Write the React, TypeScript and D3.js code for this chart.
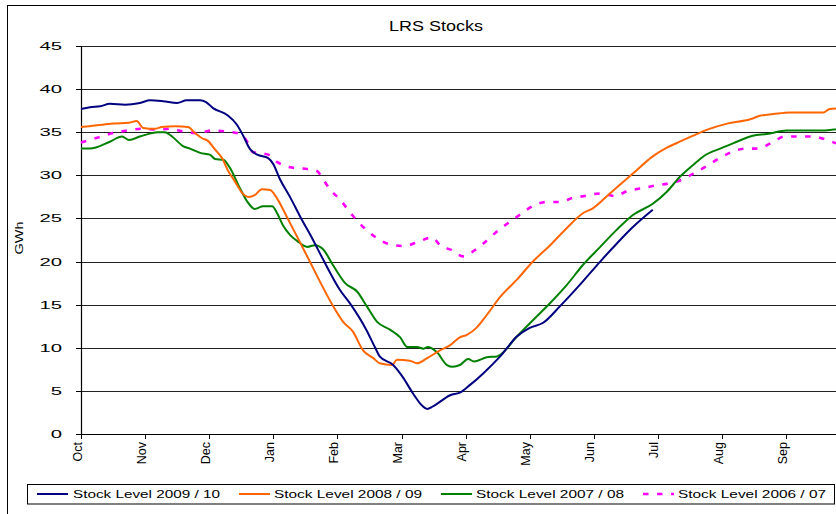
import React from 'react';
import * as d3 from 'd3';

// ---- data ----
const monthLabels = ['Oct', 'Nov', 'Dec', 'Jan', 'Feb', 'Mar', 'Apr', 'May', 'Jun', 'Jul', 'Aug', 'Sep'];
const yTicks = [0, 5, 10, 15, 20, 25, 30, 35, 40, 45];
const chartTitle = 'LRS Stocks';
const yLabel = 'GWh';

// months since 1 Oct
const months0910 = [0, 0.14, 0.30, 0.45, 0.69, 0.92, 1.08, 1.28, 1.50, 1.65, 1.86, 1.95, 2.06, 2.28, 2.43, 2.53, 2.64, 2.75, 2.92, 3.00, 3.10, 3.26, 3.42, 3.62, 3.78, 4.04, 4.21, 4.45, 4.59, 4.66, 4.87, 5.02, 5.18, 5.32, 5.40, 5.49, 5.76, 5.91, 6.07, 6.27, 6.54, 6.80, 7.00, 7.21, 7.47, 7.83, 8.10, 8.36, 8.61, 8.92];
const values0910 = [37.7, 37.9, 38.0, 38.3, 38.2, 38.4, 38.7, 38.6, 38.4, 38.7, 38.7, 38.5, 37.8, 37.0, 35.9, 34.6, 33.0, 32.4, 32.0, 31.3, 29.6, 27.5, 25.2, 22.5, 20.2, 16.7, 15.0, 12.1, 10.0, 9.0, 8.0, 6.6, 4.7, 3.3, 2.9, 3.2, 4.5, 4.8, 5.7, 7.0, 9.0, 11.3, 12.3, 12.9, 14.8, 17.7, 20.0, 22.1, 24.0, 26.0];

const months0809 = [0, 0.25, 0.5, 0.75, 0.87, 0.97, 1.15, 1.26, 1.47, 1.67, 1.78, 1.89, 1.98, 2.09, 2.20, 2.29, 2.40, 2.51, 2.61, 2.71, 2.82, 2.95, 3.06, 3.21, 3.37, 3.57, 3.74, 3.92, 4.09, 4.24, 4.40, 4.56, 4.66, 4.85, 4.93, 5.13, 5.24, 5.40, 5.60, 5.76, 5.91, 6.02, 6.18, 6.33, 6.54, 6.80, 7.05, 7.32, 7.58, 7.83, 7.99, 8.25, 8.61, 8.92, 9.14, 9.34, 9.55, 9.77, 10.08, 10.44, 10.59, 10.80, 11.06, 11.58, 11.68, 12.0];
const values0809 = [35.6, 35.8, 36.0, 36.1, 36.3, 35.5, 35.4, 35.6, 35.7, 35.6, 34.9, 34.3, 34.0, 33.0, 32.0, 30.6, 29.3, 28.0, 27.5, 27.7, 28.4, 28.3, 27.3, 25.2, 22.9, 20.0, 17.5, 15.0, 13.0, 11.9, 9.7, 8.8, 8.2, 8.0, 8.6, 8.5, 8.2, 8.8, 9.7, 10.3, 11.2, 11.5, 12.4, 13.8, 15.9, 17.9, 20.0, 21.9, 23.9, 25.6, 26.2, 27.9, 30.2, 32.2, 33.2, 33.9, 34.6, 35.3, 36.0, 36.5, 36.9, 37.1, 37.3, 37.3, 37.7, 37.8];

const months0708 = [0, 0.14, 0.45, 0.64, 0.75, 0.92, 1.20, 1.31, 1.42, 1.59, 1.70, 1.86, 2.01, 2.09, 2.22, 2.32, 2.48, 2.59, 2.71, 2.84, 2.98, 3.06, 3.15, 3.26, 3.37, 3.53, 3.65, 3.78, 3.93, 4.12, 4.31, 4.46, 4.62, 4.82, 4.98, 5.09, 5.24, 5.34, 5.41, 5.55, 5.71, 5.80, 5.91, 6.04, 6.13, 6.33, 6.49, 6.80, 7.05, 7.32, 7.58, 7.83, 8.10, 8.36, 8.61, 8.92, 9.14, 9.34, 9.55, 9.73, 9.97, 10.17, 10.48, 10.70, 11.01, 11.61, 12.0];
const values0708 = [33.1, 33.1, 33.9, 34.5, 34.1, 34.5, 35.0, 35.0, 34.5, 33.4, 33.1, 32.6, 32.4, 31.9, 31.8, 30.9, 28.5, 27.0, 26.1, 26.4, 26.4, 25.6, 24.2, 23.1, 22.4, 21.7, 21.9, 21.4, 19.6, 17.5, 16.5, 14.8, 13.0, 12.1, 11.2, 10.1, 10.1, 9.9, 10.1, 9.5, 8.0, 7.8, 8.0, 8.7, 8.4, 8.9, 9.0, 11.3, 13.2, 15.2, 17.3, 19.6, 21.7, 23.7, 25.4, 26.7, 28.1, 29.8, 31.2, 32.3, 33.1, 33.7, 34.6, 34.8, 35.2, 35.2, 35.7];

const months0607 = [0, 0.27, 0.50, 0.72, 0.95, 1.19, 1.39, 1.59, 1.81, 2.04, 2.25, 2.48, 2.61, 2.68, 2.92, 3.07, 3.29, 3.46, 3.68, 3.78, 3.88, 4.04, 4.23, 4.35, 4.48, 4.62, 4.82, 5.05, 5.26, 5.48, 5.60, 5.79, 5.96, 6.10, 6.26, 6.54, 6.69, 6.86, 7.04, 7.25, 7.47, 7.68, 7.86, 8.10, 8.33, 8.53, 8.75, 8.95, 9.19, 9.38, 9.55, 9.77, 9.94, 10.12, 10.36, 10.56, 10.78, 10.98, 11.22, 11.42, 11.64, 11.78];
const values0607 = [33.8, 34.4, 34.9, 35.2, 35.4, 35.3, 35.4, 35.1, 34.9, 35.2, 35.1, 34.8, 33.7, 32.7, 32.4, 31.5, 30.9, 30.8, 30.5, 29.5, 28.4, 27.2, 25.4, 24.4, 23.5, 22.7, 22.0, 21.8, 22.3, 22.8, 21.9, 21.3, 20.6, 21.1, 22.0, 23.8, 24.6, 25.5, 26.4, 26.9, 26.9, 27.4, 27.6, 27.9, 27.6, 28.2, 28.5, 28.8, 29.1, 29.5, 30.2, 31.1, 31.9, 32.6, 33.1, 33.1, 33.8, 34.5, 34.5, 34.5, 34.1, 33.7];

const seriesNames = ['Stock Level 2009 / 10', 'Stock Level 2008 / 09', 'Stock Level 2007 / 08', 'Stock Level 2006 / 07'];
const seriesColors = ['#000080', '#FF6600', '#008000', '#FF00FF'];

const FONT = "'Liberation Sans', Arial, sans-serif";

export default function App() {
  const W = 836;
  const H = 514;
  const left = 81;
  const top = 46;
  const bottom = 434;
  const monthW = 64.1;

  const x = d3.scaleLinear().domain([0, 12]).range([left, left + 12 * monthW]);
  const y = d3.scaleLinear().domain([0, 45]).range([bottom, top]);

  const series = [
    { name: seriesNames[0], color: seriesColors[0], m: months0910, v: values0910, dash: null },
    { name: seriesNames[1], color: seriesColors[1], m: months0809, v: values0809, dash: null },
    { name: seriesNames[2], color: seriesColors[2], m: months0708, v: values0708, dash: null },
    { name: seriesNames[3], color: seriesColors[3], m: months0607, v: values0607, dash: '5.5 8.5' },
  ];

  const line = d3
    .line<[number, number]>()
    .x((d) => x(d[0]))
    .y((d) => y(d[1]))
    .curve(d3.curveMonotoneX);

  // draw order: magenta behind, then green, orange, blue
  const drawOrder = [3, 2, 1, 0];

  const legendLineX = [37, 239, 441, 643];
  const legendTextX = [73, 274, 476, 678];
  const legendTextLen = [147, 148, 148, 148];

  return (
    <svg
      width={W}
      height={H}
      style={{ position: 'absolute', left: 0, top: 0, background: '#fff' }}
      fontFamily={FONT}
    >
      <rect x={0} y={0} width={W} height={H} fill="#fff" />
      {/* outer frame */}
      <rect x={7.5} y={5.5} width={1000} height={1000} fill="none" stroke="#000" strokeWidth={1} />

      {/* title */}
      <text x={436} y={31} textAnchor="middle" fontSize={14} textLength={94} lengthAdjust="spacingAndGlyphs" fill="#000">
        {chartTitle}
      </text>

      {/* gridlines */}
      {yTicks.filter((t) => t > 0).map((t) => (
        <line
          key={'g' + t}
          x1={left}
          x2={W}
          y1={Math.round(y(t)) + 0.5}
          y2={Math.round(y(t)) + 0.5}
          stroke="#222"
          strokeWidth={1}
        />
      ))}

      {/* y axis */}
      <line x1={left + 0.5} x2={left + 0.5} y1={top} y2={bottom + 0.5} stroke="#000" strokeWidth={1.2} />
      {yTicks.map((t) => (
        <g key={'yt' + t}>
          <line x1={left - 5} x2={left} y1={Math.round(y(t)) + 0.5} y2={Math.round(y(t)) + 0.5} stroke="#000" />
          <text
            x={62}
            y={y(t) + 4}
            textAnchor="end"
            fontSize={11.5}
            textLength={String(t).length * 11.3}
            lengthAdjust="spacingAndGlyphs"
            fill="#000"
          >
            {t}
          </text>
        </g>
      ))}

      {/* y label */}
      <text
        transform={`translate(23, 238) rotate(-90)`}
        textAnchor="middle"
        fontSize={11}
        textLength={33}
        lengthAdjust="spacingAndGlyphs"
        fill="#000"
      >
        {yLabel}
      </text>

      {/* x axis */}
      <line x1={left} x2={W} y1={bottom + 0.5} y2={bottom + 0.5} stroke="#000" strokeWidth={1.2} />
      {monthLabels.map((lab, i) => (
        <g key={'xt' + lab}>
          <line x1={Math.round(x(i)) + 0.5} x2={Math.round(x(i)) + 0.5} y1={bottom} y2={bottom + 5} stroke="#000" />
          <text
            transform={`translate(${x(i) + 0.5}, ${bottom + 8}) rotate(-90)`}
            textAnchor="end"
            fontSize={12.5}
            fill="#000"
          >
            {lab}
          </text>
        </g>
      ))}

      {/* series */}
      <g>
        {drawOrder.map((si) => {
          const s = series[si];
          const pts: [number, number][] = s.m.map((mm, i) => [mm, s.v[i]]);
          return (
            <path
              key={s.name}
              d={line(pts) || ''}
              fill="none"
              stroke={s.color}
              strokeWidth={s.dash ? 2.6 : 2}
              strokeDasharray={s.dash || undefined}
              strokeLinejoin="round"
            />
          );
        })}
      </g>

      {/* legend */}
      <rect x={27.5} y={484.5} width={807} height={19.5} fill="#fff" stroke="#000" strokeWidth={1} />
      {series.map((s, i) => (
        <g key={'lg' + i}>
          <line
            x1={legendLineX[i]}
            x2={legendLineX[i] + 31}
            y1={494}
            y2={494}
            stroke={s.color}
            strokeWidth={s.dash ? 2.6 : 2}
            strokeDasharray={s.dash || undefined}
          />
          <text
            x={legendTextX[i]}
            y={497.5}
            fontSize={11}
            textLength={legendTextLen[i]}
            lengthAdjust="spacingAndGlyphs"
            fill="#000"
          >
            {s.name}
          </text>
        </g>
      ))}
    </svg>
  );
}
